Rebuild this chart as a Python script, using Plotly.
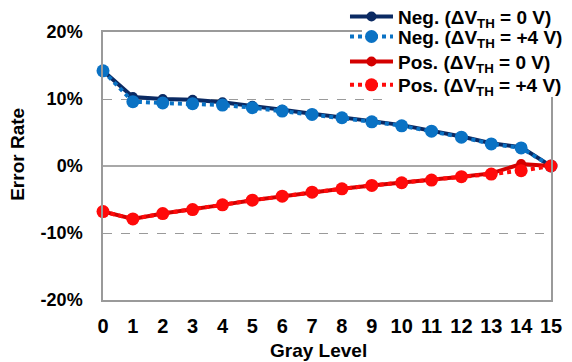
import plotly.graph_objects as go

gray_levels = list(range(16))
tick_labels = [str(i) for i in gray_levels]

neg_0v = [14.2, 10.3, 10.0, 9.9, 9.5, 9.0, 8.4, 7.8, 7.3, 6.7, 6.1, 5.3, 4.4, 3.4, 2.8, 0.0]
neg_4v = [14.2, 9.6, 9.4, 9.3, 9.1, 8.7, 8.2, 7.7, 7.2, 6.6, 6.0, 5.2, 4.3, 3.3, 2.7, 0.0]
pos_0v = [-6.8, -7.9, -7.1, -6.5, -5.8, -5.1, -4.5, -3.9, -3.4, -2.9, -2.5, -2.1, -1.6, -1.1, 0.3, 0.0]
pos_4v = [-6.8, -7.9, -7.1, -6.5, -5.8, -5.1, -4.5, -3.9, -3.4, -2.9, -2.5, -2.1, -1.6, -1.2, -0.7, 0.0]

names = [
    "Neg. (ΔV<sub>TH</sub> = 0 V)",
    "Neg. (ΔV<sub>TH</sub> = +4 V)",
    "Pos. (ΔV<sub>TH</sub> = 0 V)",
    "Pos. (ΔV<sub>TH</sub> = +4 V)",
]
x_title = "Gray Level"
y_title = "Error Rate"

FONT = "Liberation Sans, Arial, sans-serif"

fig = go.Figure()

def add(y, name, color, dash, msize, width, legend):
    fig.add_trace(go.Scatter(
        x=gray_levels, y=y, name=name, mode="lines+markers",
        line=dict(color=color, width=width, dash=dash),
        marker=dict(color=color, size=msize, symbol="circle"),
        cliponaxis=False, legend=legend, showlegend=True,
    ))

add(neg_0v, names[0], "#0B2A63", "solid", 10, 4, "legend")
add(neg_4v, names[1], "#0A72C4", "dot", 13, 4, "legend2")
add(pos_0v, names[2], "#D40000", "solid", 10, 4, "legend3")
add(pos_4v, names[3], "#FF0A0A", "dot", 13, 4, "legend4")

legend_font = dict(size=19, family=FONT, weight="bold", color="black")
title_font = dict(size=19, family=FONT, weight="bold", color="black")

def leg(y):
    return dict(x=0.5975, y=y, xref="container", yref="container",
                xanchor="left", yanchor="middle",
                bgcolor="rgba(0,0,0,0)", font=legend_font, itemwidth=43)

# page body has an 8px margin, so the figure is sized/offset to compensate
fig.update_layout(
    width=564, height=354,
    showlegend=True,
    margin=dict(l=95, r=21, t=24, b=62, autoexpand=False),
    paper_bgcolor="white", plot_bgcolor="white",
    font=dict(family=FONT, color="black"),
    legend=leg(0.9754),
    legend2=leg(0.919),
    legend3=leg(0.8483),
    legend4=leg(0.7825),
    shapes=[
        # legend background hiding the frame / grid behind it
        dict(type="rect", xref="paper", yref="paper", x0=0.578, x1=1.02, y0=0.99, y1=1.01,
             fillcolor="white", line=dict(width=0), layer="above"),
        dict(type="rect", xref="paper", yref="y", x0=0.64, x1=0.995, y0=9.6, y1=10.4,
             fillcolor="white", line=dict(width=0), layer="above"),
        dict(type="rect", xref="paper", yref="y", x0=0.99, x1=1.01, y0=10.3, y1=20.5,
             fillcolor="white", line=dict(width=0), layer="above"),
    ],
    annotations=[
        dict(text=x_title, xref="paper", yref="paper", x=0.48, y=-0.187,
             xanchor="center", yanchor="middle", showarrow=False, font=title_font),
        dict(text=y_title, xref="paper", yref="paper", x=-0.19, y=0.545,
             xanchor="center", yanchor="middle", showarrow=False, textangle=-90,
             font=title_font),
    ],
    xaxis=dict(
        range=[0, 15], automargin=False,
        tickmode="array", tickvals=gray_levels, ticktext=tick_labels,
        tickfont=dict(size=20, weight="bold", family=FONT),
        showgrid=False, zeroline=False,
        showline=True, linecolor="#9A9A9A", linewidth=1.5, mirror=True,
        ticks="", ticklabelstandoff=7,
    ),
    yaxis=dict(
        range=[-20, 20], automargin=False,
        tickmode="array", tickvals=[-20, -10, 0, 10, 20],
        ticktext=["-20%", "-10%", "0%", "10%", "20%"],
        tickfont=dict(size=18, weight="bold", family=FONT),
        showgrid=True, gridcolor="#9A9A9A", griddash="dash", gridwidth=1,
        zeroline=True, zerolinecolor="#A8A8A8", zerolinewidth=1.5,
        showline=True, linecolor="#9A9A9A", linewidth=1.5, mirror=True,
        ticks="", ticklabelstandoff=15,
    ),
)

fig.write_html("out.html")
